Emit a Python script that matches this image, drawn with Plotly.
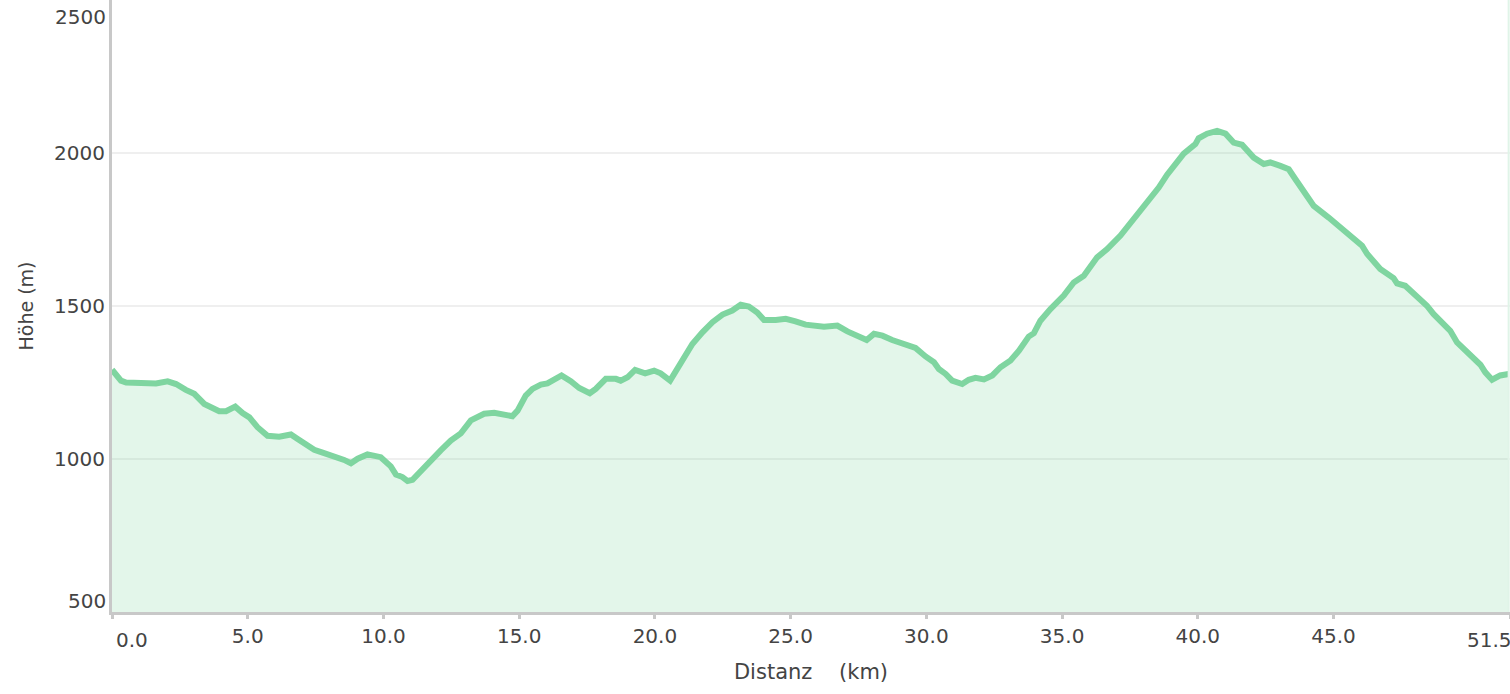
import plotly.graph_objects as go

distance_km = [0.0, 0.33, 0.52, 1.01, 1.62, 2.05, 2.36, 2.72, 3.03, 3.40, 3.95, 4.20, 4.54, 4.81,
               5.06, 5.36, 5.73, 6.16, 6.59, 6.84, 7.14, 7.45, 7.76, 8.25, 8.55, 8.80, 9.05, 9.41,
               9.90, 10.27, 10.46, 10.70, 10.89, 11.07, 11.38, 11.75, 12.11, 12.48, 12.85, 13.22,
               13.52, 13.71, 14.08, 14.44, 14.75, 14.94, 15.24, 15.49, 15.80, 16.04, 16.29, 16.56,
               16.90, 17.21, 17.60, 17.82, 18.19, 18.56, 18.74, 18.99, 19.27, 19.64, 19.97, 20.21,
               20.56, 20.77, 21.07, 21.38, 21.75, 22.12, 22.49, 22.85, 23.16, 23.46, 23.77, 24.02,
               24.45, 24.82, 25.18, 25.55, 26.23, 26.72, 27.09, 27.46, 27.80, 28.07, 28.38, 28.74,
               29.11, 29.60, 29.97, 30.28, 30.46, 30.71, 30.95, 31.32, 31.56, 31.81, 32.12, 32.43,
               32.73, 33.10, 33.41, 33.77, 33.96, 34.20, 34.57, 35.06, 35.43, 35.80, 36.29, 36.66,
               37.15, 37.58, 37.89, 38.13, 38.56, 38.87, 39.18, 39.48, 39.91, 40.03, 40.34, 40.71,
               41.02, 41.32, 41.63, 42.06, 42.43, 42.67, 43.04, 43.35, 43.59, 43.96, 44.27, 44.82,
               45.25, 45.62, 46.05, 46.24, 46.72, 47.21, 47.34, 47.64, 48.01, 48.44, 48.68, 49.30,
               49.55, 49.85, 50.41, 50.59, 50.84, 51.14, 51.45]

elevation_m = [1292, 1256, 1250, 1247, 1247, 1254, 1245, 1226, 1213, 1180, 1156, 1156, 1171, 1150,
               1136, 1104, 1076, 1073, 1080, 1065, 1050, 1030, 1021, 1008, 997, 986, 1001, 1015,
               1006, 976, 949, 941, 928, 932, 962, 993, 1028, 1060, 1084, 1126,
               1142, 1148, 1151, 1144, 1140, 1158, 1207, 1229, 1243, 1247, 1262, 1273,
               1254, 1232, 1215, 1229, 1262, 1262, 1256, 1267, 1291, 1280, 1289, 1280,
               1256, 1287, 1335, 1376, 1414, 1447, 1472, 1485, 1504, 1498, 1479, 1454,
               1454, 1458, 1450, 1439, 1432, 1436, 1417, 1403, 1389, 1409, 1403, 1389,
               1378, 1363, 1335, 1316, 1294, 1278, 1256, 1245, 1259, 1265, 1260, 1273,
               1300, 1322, 1354, 1400, 1411, 1452, 1490, 1534, 1577, 1599, 1659, 1686,
               1730, 1778, 1811, 1844, 1887, 1929, 1964, 1998, 2029, 2048, 2063, 2072,
               2063, 2034, 2027, 1985, 1964, 1969, 1958, 1947, 1915, 1871, 1827, 1789,
               1757, 1724, 1697, 1670, 1621, 1591, 1574, 1566, 1537, 1501, 1474, 1419,
               1381, 1356, 1308, 1283, 1259, 1273, 1278]

x_tick_vals = [5, 10, 15, 20, 25, 30, 35, 40, 45]
x_tick_text = ["5.0", "10.0", "15.0", "20.0", "25.0", "30.0", "35.0", "40.0", "45.0"]
x_end_labels = [(0.0, "0.0"), (51.5, "51.5")]
y_tick_vals = [1000, 1500, 2000]
y_tick_text = ["1000", "1500", "2000"]
y_end_labels = [(500, "500"), (2500, "2500")]

FONT = "DejaVu Sans, Verdana, sans-serif"
TXT = "#444444"
AXIS = "#c8c8c8"

fig = go.Figure()
fig.add_trace(go.Scatter(
    x=distance_km, y=elevation_m, mode="lines",
    line=dict(color="rgb(127,213,160)", width=6),
    fill="tozeroy", fillcolor="rgba(127,213,160,0.22)",
    hoverinfo="skip", showlegend=False,
))

fig.add_shape(type="line", xref="x", yref="paper", x0=51.45, x1=51.45, y0=0, y1=1,
              line=dict(color="#e0f4e8", width=2), layer="above")

annotations = []
annotations.append(dict(x=x_end_labels[0][0], y=0, xref="x", yref="paper", text=x_end_labels[0][1],
                        xanchor="left", yanchor="top", xshift=2, yshift=-14, showarrow=False,
                        font=dict(family=FONT, size=20, color=TXT)))
annotations.append(dict(x=x_end_labels[1][0], y=0, xref="x", yref="paper", text=x_end_labels[1][1],
                        xanchor="right", yanchor="top", xshift=4, yshift=-14, showarrow=False,
                        font=dict(family=FONT, size=20, color=TXT)))
annotations.append(dict(x=0, y=y_end_labels[0][0], xref="paper", yref="y", text=y_end_labels[0][1],
                        xanchor="right", yanchor="middle", xshift=-4, yshift=11, showarrow=False,
                        font=dict(family=FONT, size=20, color=TXT)))
annotations.append(dict(x=0, y=y_end_labels[1][0], xref="paper", yref="y", text=y_end_labels[1][1],
                        xanchor="right", yanchor="middle", xshift=-4, yshift=-17, showarrow=False,
                        font=dict(family=FONT, size=20, color=TXT)))

fig.update_layout(
    width=1510, height=694,
    margin=dict(l=112, r=0, t=0, b=82),
    paper_bgcolor="white", plot_bgcolor="white",
    font=dict(family=FONT, size=20, color=TXT),
    annotations=annotations,
    xaxis=dict(
        range=[0, 51.5], showgrid=False, zeroline=False,
        showline=True, linecolor=AXIS, linewidth=3,
        ticks="outside", ticklen=4, tickwidth=3, tickcolor=AXIS,
        tickvals=[0] + x_tick_vals + [51.5], ticktext=[""] + x_tick_text + [""],
        tickfont=dict(family=FONT, size=20, color=TXT),
        title=dict(text="Distanz&nbsp;&nbsp;&nbsp;&nbsp;(km)", standoff=18,
                   font=dict(family=FONT, size=21, color=TXT)),
        fixedrange=True,
    ),
    yaxis=dict(
        range=[500, 2500], showgrid=True, gridcolor="#efefef", gridwidth=2,
        zeroline=False, showline=True, linecolor=AXIS, linewidth=3,
        ticks="", tickvals=y_tick_vals, ticktext=y_tick_text,
        tickfont=dict(family=FONT, size=20, color=TXT),
        title=dict(text="Höhe (m)", standoff=16, font=dict(family=FONT, size=19, color=TXT)),
        fixedrange=True,
    ),
)

fig.write_html("out.html", config={"displayModeBar": False},
               post_script="document.body.style.margin='0';document.body.style.overflow='hidden';")
